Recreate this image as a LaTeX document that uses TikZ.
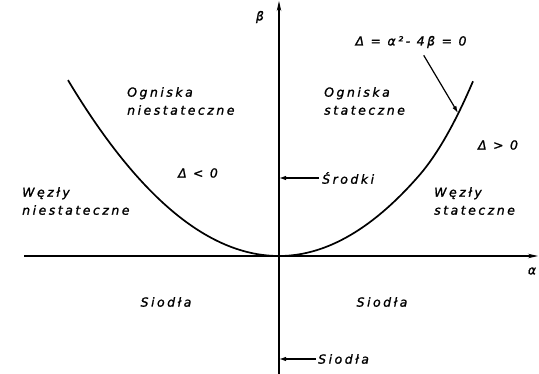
\documentclass[tikz,border=0pt]{standalone}
\usepackage{fontspec}
\usepackage{tikz}
\usetikzlibrary{arrows.meta, positioning, calc}
\setmainfont{DejaVu Sans}
\newfontfamily\drafting[LetterSpace=20, FakeBold=1.2]{DejaVu Sans}

\begin{document}
\begin{tikzpicture}[
    x=1pt, y=-1pt,
    label/.style={
        inner sep=0pt,
        align=left,
        font=\drafting\itshape\fontsize{12.5}{18}\selectfont
    },
    axis/.style={
        draw,
        -{Stealth[length=10pt, width=4.5pt]},
        line width=1.2pt
    },
    pointer/.style={
        draw,
        -{Latex[length=7pt, width=4.5pt]},
        line width=1.2pt
    },
    curve/.style={
        line width=1.7pt
    }
]
    \useasboundingbox (0,0) rectangle (539,374);

    % axes
    \coordinate (o) at (279,256);
    \coordinate (xstart) at (24,256);
    \coordinate (xend) at (538,256);
    \coordinate (ystart) at (279,374);
    \coordinate (yend) at (279,1);
    \draw [axis] (xstart) -- (xend);
    \draw [axis] (ystart) -- (yend);
    \node [label] (alpha) at (532,271) {α};
    \node [label] (beta) at (260,17) {β};

    % discriminant parabola (\x in steps of 10pt), a bit steeper on the right
    \draw [curve] plot [domain=-21.1:0, samples=60]
        ({279+10*\x}, {256-0.395*\x*\x});
    \draw [curve] plot [domain=0:19.4, samples=60]
        ({279+10*\x}, {256-0.41*\x*\x-0.7*max(0,\x-14)*max(0,\x-14)});
    \coordinate (tip) at (458,113);

    \node [label] (eq) at (411,42) {Δ = α²- 4β = 0};
    \draw [pointer] ([xshift=-43pt, yshift=-7pt]eq.south east) -- (tip);

    \node [label, anchor=north west] (ognn) at (127,87) {Ogniska\\niestateczne};
    \node [label, anchor=north west] (ogns) at (324,87) {Ogniska\\stateczne};
    \node [label] (dneg) at (198,173) {Δ\enspace< 0};
    \node [label] (dpos) at (498,145) {Δ > 0};
    \node [label, anchor=north west] (wezn) at (22,187) {Węzły\\niestateczne};
    \node [label, anchor=north west] (wezs) at (434,187) {Węzły\\stateczne};
    \node [label] (siodl) at (166,302) {Siodła};
    \node [label] (siodr) at (382,302) {Siodła};

    \node [label, anchor=west] (srodki) at (322,178) {Środki};
    \node [label, anchor=west] (siodb) at (318,359) {Siodła};
    \draw [pointer] ([xshift=-3pt]srodki.west) -- (srodki.west -| o);
    \draw [pointer] ([xshift=-2pt]siodb.west) -- (siodb.west -| o);

\end{tikzpicture}
\end{document}
